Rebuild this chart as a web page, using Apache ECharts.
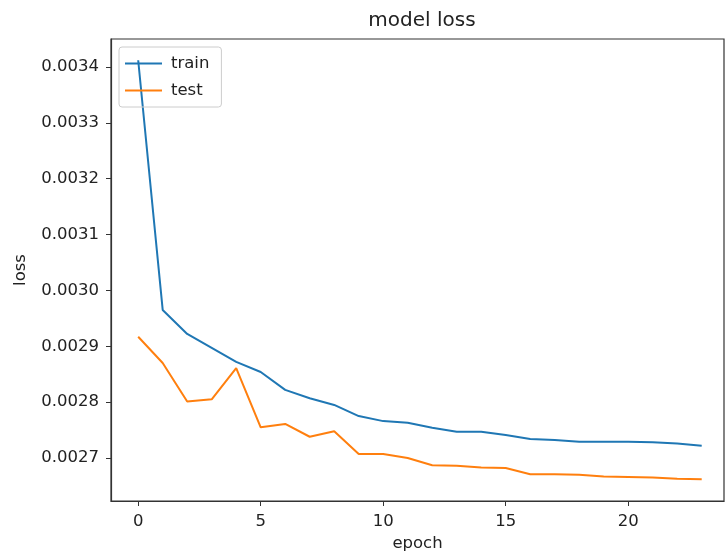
<!DOCTYPE html>
<html>
<head>
<meta charset="utf-8">
<script src="https://cdn.jsdelivr.net/npm/echarts@6/dist/echarts.min.js"></script>
<style>html,body{margin:0;padding:0;background:#fff}#c{width:725px;height:554px}</style>
</head>
<body>
<div id="c"></div>
<script>
const epochs = [0,1,2,3,4,5,6,7,8,9,10,11,12,13,14,15,16,17,18,19,20,21,22,23];
const train = [0.003412,0.002965,0.002922,0.002897,0.002872,0.002854,0.002822,0.002807,0.002795,0.002775,0.002766,0.002763,0.002754,0.002747,0.002747,0.002741,0.002734,0.002732,0.002729,0.002729,0.002729,0.002728,0.002726,0.002722];
const test = [0.002917,0.002870,0.002801,0.002805,0.002861,0.002755,0.002761,0.002738,0.002748,0.002707,0.002707,0.002700,0.002687,0.002686,0.002683,0.002682,0.002671,0.002671,0.002670,0.002667,0.002666,0.002665,0.002663,0.002662];
const xTicks = [0,5,10,15,20];
const yTicks = [0.0027,0.0028,0.0029,0.0030,0.0031,0.0032,0.0033,0.0034];

const chart = echarts.init(document.getElementById('c'));
const font = 'DejaVu Sans';
chart.setOption({
  animation: false,
  title: {text: 'model loss', left: 417, top: 6, textAlign: 'center',
    textStyle: {fontFamily: font, fontSize: 20, fontWeight: 'normal', color: '#222'}},
  grid: {left: 111, top: 39, right: 1, bottom: 53, show: true, borderColor: '#333', borderWidth: 1.2,
    backgroundColor: 'transparent', containLabel: false, outerBoundsMode: 'none'},
  legend: {
    left: 119, top: 47, orient: 'vertical', padding: [8, 12, 8, 5], itemGap: 10,
    itemWidth: 37, itemHeight: 16, borderColor: '#ccc', borderWidth: 1, borderRadius: 3,
    itemStyle: {opacity: 0},
    textStyle: {fontFamily: font, fontSize: 16.5, color: '#222', padding: [0, 0, 0, 4]},
    data: ['train', 'test']
  },
  xAxis: {
    type: 'value', min: -1.11, max: 23.91,
    name: 'epoch', nameLocation: 'middle', nameGap: 32,
    nameTextStyle: {fontFamily: font, fontSize: 16.5, color: '#222'},
    axisLine: {onZero: false, lineStyle: {color: '#333', width: 1.2}},
    axisTick: {show: true, length: 5, lineStyle: {color: '#333'}, customValues: xTicks},
    axisLabel: {fontFamily: font, fontSize: 16.5, color: '#222', margin: 12, customValues: xTicks},
    splitLine: {show: false}
  },
  yAxis: {
    type: 'value', min: 0.002623, max: 0.003450,
    name: 'loss', nameLocation: 'middle', nameGap: 82,
    nameTextStyle: {fontFamily: font, fontSize: 16.5, color: '#222'},
    axisLine: {show: true, onZero: false, lineStyle: {color: '#333', width: 1.2}},
    axisTick: {show: true, length: 5, lineStyle: {color: '#333'}, customValues: yTicks},
    axisLabel: {fontFamily: font, fontSize: 16.5, color: '#222', margin: 12, customValues: yTicks,
      formatter: v => v.toFixed(4)},
    splitLine: {show: false}
  },
  series: [
    {name: 'train', type: 'line', symbol: 'none', color: '#1f77b4',
      lineStyle: {width: 2}, data: epochs.map((e, i) => [e, train[i]])},
    {name: 'test', type: 'line', symbol: 'none', color: '#ff7f0e',
      lineStyle: {width: 2}, data: epochs.map((e, i) => [e, test[i]])}
  ]
});
</script>
</body>
</html>
